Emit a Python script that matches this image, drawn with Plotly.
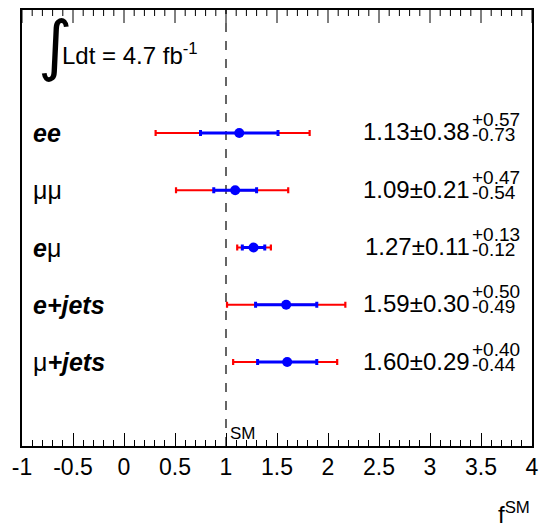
import plotly.graph_objects as go

# ---- data ----
channels = ["ee", "μμ", "eμ", "e+jets", "μ+jets"]
labels_html = ["<b><i>ee</i></b>", "μμ", "<b><i>e</i></b>μ", "<b><i>e+jets</i></b>", "μ<b><i>+jets</i></b>"]
central = [1.13, 1.09, 1.27, 1.59, 1.60]
stat = [0.38, 0.21, 0.11, 0.30, 0.29]
syst_up = [0.57, 0.47, 0.13, 0.50, 0.40]
syst_dn = [0.73, 0.54, 0.12, 0.49, 0.44]
# total (stat+syst) error bar extents as drawn in red
tot_up = [0.69, 0.52, 0.17, 0.58, 0.49]
tot_dn = [0.82, 0.58, 0.16, 0.58, 0.53]
ypos = [5, 4, 3, 2, 1]
xticks = [-1, -0.5, 0, 0.5, 1, 1.5, 2, 2.5, 3, 3.5, 4]
xtick_text = ["-1", "-0.5", "0", "0.5", "1", "1.5", "2", "2.5", "3", "3.5", "4"]
minor_step = 0.1
sm_value = 1.0
lumi_text = "Ldt = 4.7 fb<sup>-1</sup>"

FONT = "Liberation Sans, Arial, sans-serif"
XMIN, XMAX = -1, 4
PLOT_H = 527 - 10 - 81  # plot-area height in px
MAJOR_LEN, MINOR_LEN = 13, 6

fig = go.Figure()

# total error (red)
fig.add_trace(go.Scatter(
    x=central, y=ypos, mode="markers",
    marker=dict(size=1, color="rgba(0,0,0,0)"),
    error_x=dict(type="data", symmetric=False, array=tot_up, arrayminus=tot_dn,
                 color="#ff0000", thickness=2.2, width=3),
    showlegend=False, hoverinfo="skip"))

# stat error (blue) + central value
fig.add_trace(go.Scatter(
    x=central, y=ypos, mode="markers",
    marker=dict(size=10, color="#0000ff"),
    error_x=dict(type="data", symmetric=True, array=stat,
                 color="#0000ff", thickness=3, width=3),
    showlegend=False, hoverinfo="skip"))

# top-edge ticks (mirror of bottom axis ticks), drawn on a pixel-scaled overlay axis
n_minor = int(round((XMAX - XMIN) / minor_step))
minor_vals = [round(XMIN + i * minor_step, 3) for i in range(n_minor + 1)]
tx, ty = [], []
for v in minor_vals:
    major = any(abs(v - t) < 1e-9 for t in xticks)
    tx += [v, v, None]
    ty += [PLOT_H, PLOT_H - (MAJOR_LEN if major else MINOR_LEN), None]
fig.add_trace(go.Scatter(x=tx, y=ty, yaxis="y2", mode="lines",
                         line=dict(color="black", width=1),
                         showlegend=False, hoverinfo="skip"))

# SM dashed line
fig.add_shape(type="line", xref="x", yref="paper", x0=sm_value, x1=sm_value, y0=0, y1=1,
              line=dict(color="#333333", width=1.5, dash="dash"), layer="below")

ann = []
# channel labels
for lab, y in zip(labels_html, ypos):
    ann.append(dict(x=-0.915, y=y, xref="x", yref="y", text=lab, showarrow=False,
                    xanchor="left", yanchor="middle",
                    font=dict(family=FONT, size=25, color="black")))
# result texts
for c, s, su, sd, y in zip(central, stat, syst_up, syst_dn, ypos):
    ann.append(dict(x=3.41, y=y, xref="x", yref="y", text=f"{c:.2f}±{s:.2f}",
                    showarrow=False, xanchor="right", yanchor="middle", yshift=1,
                    font=dict(family=FONT, size=24, color="black")))
    ann.append(dict(x=3.40, y=y, xref="x", yref="y", text=f"+{su:.2f}",
                    showarrow=False, xanchor="left", yanchor="middle", yshift=13,
                    borderpad=0,
                    font=dict(family=FONT, size=19, color="black")))
    ann.append(dict(x=3.40, y=y, xref="x", yref="y", text=f"-{sd:.2f}",
                    showarrow=False, xanchor="left", yanchor="middle", yshift=-2,
                    borderpad=0,
                    font=dict(family=FONT, size=19, color="black")))

# luminosity label
ann.append(dict(x=0.027, y=0.918, xref="paper", yref="paper", text="∫",
                showarrow=False, xanchor="left", yanchor="middle",
                font=dict(family="DejaVu Sans", size=66, color="black")))
ann.append(dict(x=0.074, y=0.9, xref="paper", yref="paper", text=lumi_text,
                showarrow=False, xanchor="left", yanchor="middle",
                font=dict(family=FONT, size=24, color="black")))
# SM label
ann.append(dict(x=1.02, y=0.0, xref="x", yref="paper", text="SM",
                showarrow=False, xanchor="left", yanchor="bottom", yshift=1,
                font=dict(family=FONT, size=17, color="black")))
# axis title
ann.append(dict(x=1.0, y=-0.115, xref="paper", yref="paper", text="f<sup>SM</sup>",
                showarrow=False, xanchor="right", yanchor="top",
                font=dict(family=FONT, size=24, color="black")))

fig.update_layout(
    width=541, height=527,
    margin=dict(l=22, r=9, t=10, b=81),
    paper_bgcolor="white", plot_bgcolor="white",
    annotations=ann,
    xaxis=dict(range=[XMIN, XMAX], tickmode="array", tickvals=xticks, ticktext=xtick_text,
               ticks="inside", ticklen=MAJOR_LEN, tickwidth=1, tickcolor="black",
               minor=dict(dtick=minor_step, tick0=0, ticks="inside", ticklen=MINOR_LEN, tickwidth=1,
                          tickcolor="black", showgrid=False),
               showgrid=False, zeroline=False, automargin=False,
               showline=True, linecolor="black", linewidth=1.5, mirror=True,
               tickfont=dict(family=FONT, size=23, color="black")),
    yaxis=dict(range=[-0.467, 7.148], showticklabels=False, ticks="",
               showline=True, linecolor="black", linewidth=1.5, mirror=True,
               showgrid=False, zeroline=False, automargin=False),
    yaxis2=dict(range=[0, PLOT_H], overlaying="y", side="right", visible=False,
                showgrid=False, zeroline=False, automargin=False),
)

fig.write_html("out.html", config={"displayModeBar": False},
               post_script="document.body.style.margin='0';")
